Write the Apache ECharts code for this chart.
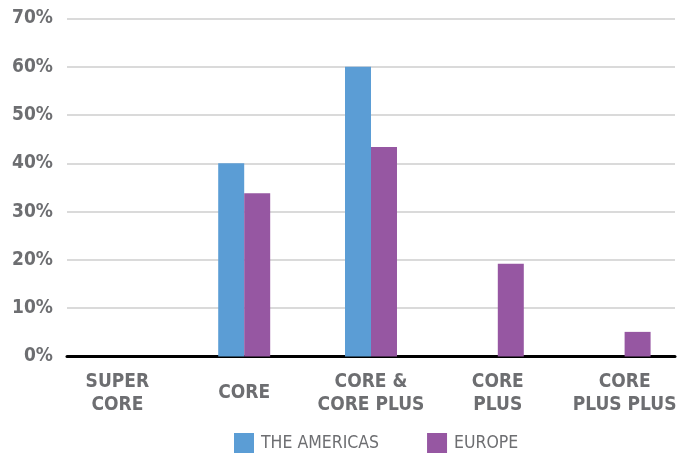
<!DOCTYPE html>
<html>
<head>
<meta charset="utf-8">
<script src="https://cdn.jsdelivr.net/npm/echarts@6/dist/echarts.min.js"></script>
<style>
  html, body { margin: 0; padding: 0; background: #fff; }
  #chart { width: 688px; height: 455px; }
</style>
</head>
<body>
<div id="chart"></div>
<script>
// investment style split by region
var categories = ['SUPER\nCORE', 'CORE', 'CORE &\nCORE PLUS', 'CORE\nPLUS', 'CORE\nPLUS PLUS'];
var americas = [0, 40, 60, 0, 0];
var europe = [0, 33.8, 43.4, 19.2, 5.1];
var yTicks = [0, 70, 10]; // min, max, step

var FONT = '"DejaVu Sans Condensed", "Liberation Sans Narrow", sans-serif';
var GREY = '#6d6e71';

var chart = echarts.init(document.getElementById('chart'));
var option = {
    animation: false,
    // grid 0 holds the bars, grid 1 only draws gridlines + baseline (shorter, like the excel plot area)
    grid: [
        { left: 54, right: 0, top: 18.5, bottom: 98.5 },
        { left: 67, right: 13, top: 18.5, bottom: 98.5 }
    ],
    legend: {
        top: 433,
        left: 234,
        padding: 0,
        itemWidth: 20,
        itemHeight: 20,
        itemGap: 48,
        icon: 'rect',
        textStyle: { color: GREY, fontFamily: FONT, fontSize: 17.5, padding: [0, 0, 0, 2] },
        data: ['THE AMERICAS', 'EUROPE']
    },
    xAxis: [
        {
            type: 'category',
            gridIndex: 0,
            data: categories,
            axisLine: { show: false },
            axisTick: { show: false },
            axisLabel: {
                margin: 14,
                color: GREY,
                fontFamily: FONT,
                fontWeight: 'bold',
                fontSize: 19,
                lineHeight: 23,
                interval: 0,
                formatter: function (v) {
                    return v.indexOf('\n') < 0 ? '{one|' + v + '}' : v;
                },
                rich: {
                    one: { color: GREY, fontFamily: FONT, fontWeight: 'bold', fontSize: 19, lineHeight: 23, padding: [22, 0, 0, 0] }
                }
            }
        },
        {
            type: 'value',
            gridIndex: 1,
            min: 0,
            max: 1,
            axisLine: { show: true, onZero: false, lineStyle: { color: '#000', width: 3 } },
            axisTick: { show: false },
            axisLabel: { show: false },
            splitLine: { show: false }
        }
    ],
    yAxis: [
        {
            type: 'value',
            gridIndex: 0,
            min: yTicks[0],
            max: yTicks[1],
            interval: yTicks[2],
            axisLine: { show: false },
            axisTick: { show: false },
            axisLabel: { show: false },
            splitLine: { show: false }
        },
        {
            type: 'value',
            gridIndex: 1,
            min: yTicks[0],
            max: yTicks[1],
            interval: yTicks[2],
            axisLine: { show: false },
            axisTick: { show: false },
            splitLine: { lineStyle: { color: '#dadada', width: 2 } },
            axisLabel: {
                margin: 14,
                color: GREY,
                fontFamily: FONT,
                fontWeight: 'bold',
                fontSize: 19,
                formatter: '{value}%'
            }
        }
    ],
    series: [
        {
            name: 'THE AMERICAS',
            type: 'bar',
            data: americas,
            barGap: '0%',
            barCategoryGap: '59%',
            itemStyle: { color: '#5b9dd5' }
        },
        {
            name: 'EUROPE',
            type: 'bar',
            data: europe,
            itemStyle: { color: '#9657a2' }
        }
    ]
};
chart.setOption(option);
</script>
</body>
</html>
